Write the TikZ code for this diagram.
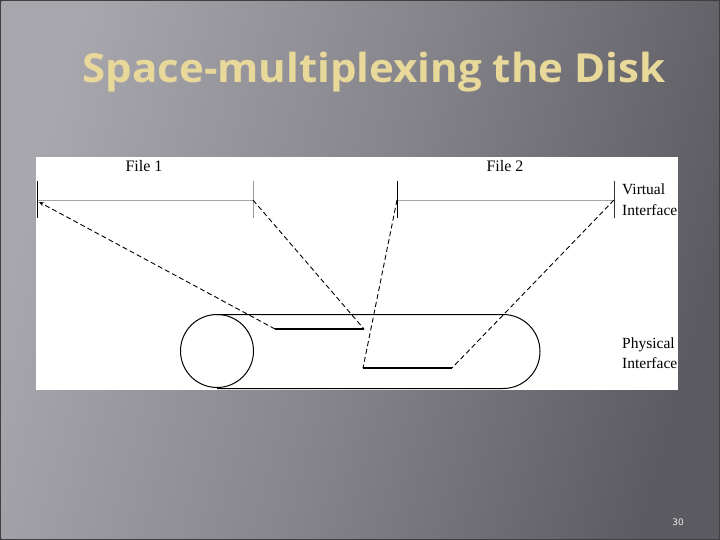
\documentclass[tikz,border=0pt]{standalone}
\usepackage{fontspec}
\setmainfont{Liberation Serif}
\newfontfamily\titlefont{Open Sans}
\newfontfamily\numfont{DejaVu Sans}
\usetikzlibrary{arrows.meta}
\definecolor{bgdark}{HTML}{5C5B61}
\definecolor{bglight}{HTML}{A9A7AE}
\definecolor{titlecol}{HTML}{E8D89A}
\tikzset{
  lbl/.style={font=\fontsize{15.5}{20}\selectfont, inner sep=0pt, anchor=base west},
  flbl/.style={font=\fontsize{16}{18}\selectfont, inner sep=0pt, anchor=base},
  vline/.style={draw=gray!70, line width=0.9pt},
  tickblack/.style={draw=black, line width=1pt},
  tickgray/.style={draw=gray!80, line width=1pt},
  phys/.style={draw=black, line width=1.2pt},
  disk/.style={draw=black, line width=1pt},
  map/.style={draw=black, dashed, dash pattern=on 5pt off 3pt, line width=0.9pt},
}
\begin{document}
\begin{tikzpicture}[x=1pt,y=-1pt]
\useasboundingbox (0,0) rectangle (720,540);
% background
\fill[black!75] (0,0) rectangle (720,540);
\shade[left color=bglight, right color=bgdark, middle color=bglight!55!bgdark, shading angle=75] (1.5,1.5) rectangle (718.5,538.5);
% title
\node[text=titlecol, font=\titlefont\bfseries\fontsize{40}{44}\selectfont, inner sep=0pt, anchor=base, xscale=1.05] (title) at (374,83) {Space-multiplexing the Disk};
% white area
\fill[white] (36,157) rectangle (678,390);
\begin{scope}
\clip (36,157) rectangle (678,390);
% virtual interface
\coordinate (f1a) at (37,200);
\coordinate (f1b) at (253,200);
\coordinate (f2a) at (397,200);
\coordinate (f2b) at (614,200);
\draw[vline] (f1a) -- (f1b);
\draw[vline] (f2a) -- (f2b);
\draw[tickblack] (37,181) -- (37,218);
\draw[tickgray] (253,181) -- (253,218);
\draw[tickblack] (397,181) -- (397,218);
\draw[draw=black!80, line width=0.8pt] (614,181) -- (614,218);
% disk
\node[disk, circle, minimum size=73pt, inner sep=0pt] (circ) at (217,351) {};
\draw[disk] (217,314.5) -- (503,314.5) arc[start angle=-90, end angle=90, radius=37] -- (217,388.5);
% physical extents
\coordinate (p1a) at (275,329);
\coordinate (p1b) at (364,329);
\coordinate (p2a) at (363,368);
\coordinate (p2b) at (452,368);
\draw[phys] (p1a) -- (p1b);
\draw[phys] (p2a) -- (p2b);
% mappings
\draw[map, -{Stealth[length=5pt,width=4pt]}] (p1a) -- (39,202);
\draw[map] (f1b) -- (p1b);
\draw[map] (f2a) -- (p2a);
\draw[map] (f2b) -- (p2b);
% labels
\node[lbl] (virt1) at (622,195) {Virtual};
\node[lbl] (virt2) at (622,215) {Interface};
\node[lbl] (phy1) at (622,348) {Physical};
\node[lbl] (phy2) at (622,368) {Interface};
\end{scope}
\node[flbl] (file1) at (144,172) {File 1};
\node[flbl] (file2) at (505,172) {File 2};
% page number
\node[text=white!85!gray, font=\numfont\fontsize{9}{10}\selectfont, inner sep=0pt] (pg) at (678,522) {30};
\end{tikzpicture}
\end{document}
